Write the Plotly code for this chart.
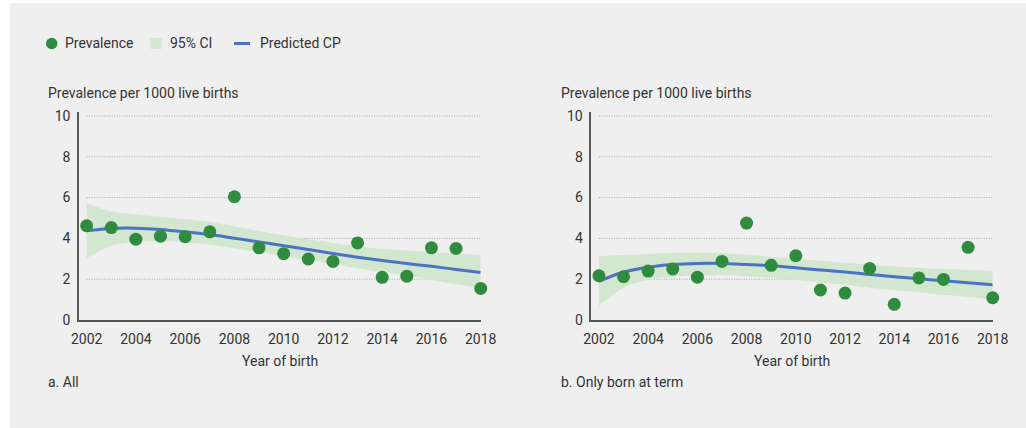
import plotly.graph_objects as go

years = list(range(2002, 2019))

# Panel a: All
prev_all = [4.62, 4.53, 3.96, 4.11, 4.08, 4.32, 6.04, 3.54, 3.25, 2.99, 2.87, 3.78, 2.09, 2.15, 3.54, 3.51, 1.55]
pred_all = [4.37, 4.49, 4.50, 4.44, 4.32, 4.19, 4.01, 3.83, 3.64, 3.46, 3.26, 3.08, 2.92, 2.77, 2.63, 2.48, 2.33]
ci_hi_all = [5.71, 5.33, 5.17, 5.06, 4.94, 4.80, 4.60, 4.36, 4.14, 3.96, 3.78, 3.62, 3.49, 3.41, 3.33, 3.25, 3.18]
ci_lo_all = [3.03, 3.64, 3.83, 3.87, 3.80, 3.69, 3.51, 3.33, 3.13, 2.94, 2.74, 2.54, 2.35, 2.17, 1.96, 1.75, 1.55]

# Panel b: Only born at term
prev_term = [2.17, 2.12, 2.40, 2.50, 2.10, 2.87, 4.75, 2.68, 3.15, 1.47, 1.32, 2.53, 0.77, 2.06, 1.99, 3.56, 1.09]
pred_term = [1.89, 2.35, 2.59, 2.72, 2.77, 2.77, 2.72, 2.66, 2.56, 2.45, 2.35, 2.23, 2.12, 2.02, 1.92, 1.83, 1.73]
ci_hi_term = [3.13, 3.18, 3.23, 3.28, 3.31, 3.28, 3.20, 3.10, 3.00, 2.90, 2.81, 2.71, 2.63, 2.56, 2.50, 2.45, 2.41]
ci_lo_term = [0.69, 1.58, 1.96, 2.12, 2.17, 2.19, 2.15, 2.07, 1.96, 1.84, 1.71, 1.58, 1.47, 1.35, 1.24, 1.13, 1.01]

y_ticks = [0, 2, 4, 6, 8, 10]
x_ticks = list(range(2002, 2019, 2))
panel_labels = ["a. All", "b. Only born at term"]
y_title = "Prevalence per 1000 live births"
x_title = "Year of birth"
legend_labels = ["Prevalence", "95% CI", "Predicted CP"]

GREEN = "#2f8c3f"
BLUE = "#4a73c2"
CI = "#d3e6d0"
BG = "#efefef"
TXT = "#333333"
FONT = "Roboto"
FS = 14

W, H = 1026, 428

fig = go.Figure()

panels = [
    ("x", "y", prev_all, pred_all, ci_hi_all, ci_lo_all),
    ("x2", "y2", prev_term, pred_term, ci_hi_term, ci_lo_term),
]
for xa, ya, prev, pred, hi, lo in panels:
    fig.add_trace(go.Scatter(x=years, y=hi, xaxis=xa, yaxis=ya, mode="lines",
                             line=dict(width=0, shape="spline"), showlegend=False, hoverinfo="skip"))
    fig.add_trace(go.Scatter(x=years, y=lo, xaxis=xa, yaxis=ya, mode="lines", fill="tonexty",
                             fillcolor=CI, line=dict(width=0, shape="spline"), showlegend=False,
                             hoverinfo="skip"))
    fig.add_trace(go.Scatter(x=years, y=pred, xaxis=xa, yaxis=ya, mode="lines",
                             line=dict(color=BLUE, width=3, shape="spline"), showlegend=False))
    fig.add_trace(go.Scatter(x=years, y=prev, xaxis=xa, yaxis=ya, mode="markers",
                             marker=dict(color=GREEN, size=13), showlegend=False, cliponaxis=False))

def px_x(p):
    return p / W

def px_y(p):
    return 1 - p / H

xdom1 = [px_x(79), px_x(480.7)]
xdom2 = [px_x(591.3), px_x(992.7)]
ydom = [px_y(320), px_y(111.9)]

axis_common = dict(showgrid=False, zeroline=False, showline=True, linecolor="#555555", linewidth=1.5,
                   ticks="", automargin=False, tickfont=dict(family=FONT, size=FS, color=TXT))
xr = [2001.69, 2018.0]
yr = [0, 10.2]

fig.update_layout(
    width=W, height=H,
    margin=dict(l=0, r=0, t=0, b=0, pad=0),
    paper_bgcolor="white", plot_bgcolor="rgba(0,0,0,0)",
    showlegend=False,
    xaxis=dict(domain=xdom1, range=xr, tickvals=x_ticks, anchor="y", ticklabelstandoff=5, **axis_common),
    yaxis=dict(domain=ydom, range=yr, tickvals=y_ticks, anchor="x", ticklabelstandoff=4, **axis_common),
    xaxis2=dict(domain=xdom2, range=xr, tickvals=x_ticks, anchor="y2", ticklabelstandoff=5, **axis_common),
    yaxis2=dict(domain=ydom, range=yr, tickvals=y_ticks, anchor="x2", ticklabelstandoff=4, **axis_common),
    font=dict(family=FONT, size=FS, color=TXT),
)

shapes = []
# gray panel background
shapes.append(dict(type="rect", xref="paper", yref="paper", x0=px_x(10), x1=1, y0=0, y1=px_y(3),
                   fillcolor=BG, line=dict(width=0), layer="below"))
# dotted gridlines
for xa, ya in [("x", "y"), ("x2", "y2")]:
    for t in y_ticks[1:]:
        shapes.append(dict(type="line", xref=xa, yref=ya, x0=x_ticks[0], x1=x_ticks[-1], y0=t, y1=t,
                           line=dict(color="#a8a8a8", width=1, dash="1px,1.5px"), layer="below"))

# custom legend
ly = px_y(43.5)
shapes.append(dict(type="circle", xref="paper", yref="paper", x0=px_x(46), x1=px_x(57.5),
                   y0=px_y(49.2), y1=px_y(37.8), fillcolor=GREEN, line=dict(width=0)))
shapes.append(dict(type="rect", xref="paper", yref="paper", x0=px_x(150.5), x1=px_x(161.5),
                   y0=px_y(49), y1=px_y(38), fillcolor=CI, line=dict(width=0)))
shapes.append(dict(type="line", xref="paper", yref="paper", x0=px_x(234), x1=px_x(250),
                   y0=ly, y1=ly, line=dict(color=BLUE, width=3)))
fig.update_layout(shapes=shapes)

annotations = []
for x0, lab in zip([63, 168, 257.5], legend_labels):
    annotations.append(dict(text=lab, xref="paper", yref="paper", x=px_x(x0), y=ly, xanchor="left",
                            yanchor="middle", showarrow=False, font=dict(family=FONT, size=FS, color=TXT)))
for xl, xc, lab in [(46, (79 + 480.7) / 2, panel_labels[0]), (559, (591.3 + 992.7) / 2, panel_labels[1])]:
    annotations.append(dict(text=y_title, xref="paper", yref="paper", x=px_x(xl), y=px_y(93),
                            xanchor="left", yanchor="middle", showarrow=False,
                            font=dict(family=FONT, size=FS, color=TXT)))
    annotations.append(dict(text=x_title, xref="paper", yref="paper", x=px_x(xc), y=px_y(361),
                            xanchor="center", yanchor="middle", showarrow=False,
                            font=dict(family=FONT, size=FS, color=TXT)))
    annotations.append(dict(text=lab, xref="paper", yref="paper", x=px_x(xl), y=px_y(382),
                            xanchor="left", yanchor="middle", showarrow=False,
                            font=dict(family=FONT, size=FS, color=TXT)))
fig.update_layout(annotations=annotations)

fig.write_html("out.html")
